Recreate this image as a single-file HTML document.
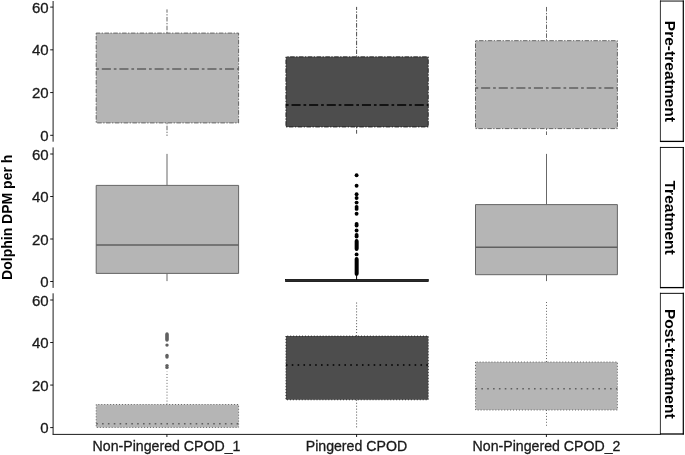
<!DOCTYPE html>
<html><head><meta charset="utf-8"><style>
html,body{margin:0;padding:0;background:#fff;}
body{width:685px;height:455px;overflow:hidden;}
svg{display:block;will-change:transform;}
.ytk{font-family:"Liberation Sans",sans-serif;font-size:15.0px;fill:#1a1a1a;stroke:#1a1a1a;stroke-width:0.3px;}
.tk{font-family:"Liberation Sans",sans-serif;font-size:14.15px;fill:#1a1a1a;stroke:#1a1a1a;stroke-width:0.3px;}
.stl{font-family:"Liberation Sans",sans-serif;font-size:15px;font-weight:bold;fill:#000;}
.ttl{font-family:"Liberation Sans",sans-serif;font-size:14px;font-weight:bold;fill:#000;}
</style></head><body>
<svg width="685" height="455" viewBox="0 0 685 455">
<path d="M167.0,33.1V9.4" fill="none" stroke="#606060" stroke-width="0.95" stroke-dasharray="1.35 1.45 4.55 1.45"/>
<path d="M167.0,122.9V135.9" fill="none" stroke="#606060" stroke-width="0.95" stroke-dasharray="1.35 1.45 4.55 1.45"/>
<path d="M96.2,33.1V122.9H238.6V33.1Z" fill="#b5b5b5" stroke="#606060" stroke-width="0.95" stroke-dasharray="1.35 1.45 4.55 1.45"/>
<path d="M96.2,69.1H238.6" fill="none" stroke="#606060" stroke-width="1.5" stroke-dasharray="2.70 2.90 9.10 2.90"/>
<path d="M356.6,56.8V6.9" fill="none" stroke="#000000" stroke-width="0.7" stroke-dasharray="1.35 1.45 4.55 1.45"/>
<path d="M356.6,127.0V133.7" fill="none" stroke="#000000" stroke-width="0.7" stroke-dasharray="1.35 1.45 4.55 1.45"/>
<path d="M285.9,56.8V127.0H428.3V56.8Z" fill="#4d4d4d" stroke="#000000" stroke-width="0.7" stroke-dasharray="1.35 1.45 4.55 1.45"/>
<path d="M285.9,105.0H428.3" fill="none" stroke="#000000" stroke-width="1.5" stroke-dasharray="2.70 2.90 9.10 2.90"/>
<path d="M546.5,40.7V6.9" fill="none" stroke="#606060" stroke-width="0.95" stroke-dasharray="1.35 1.45 4.55 1.45"/>
<path d="M546.5,128.6V135.0" fill="none" stroke="#606060" stroke-width="0.95" stroke-dasharray="1.35 1.45 4.55 1.45"/>
<path d="M475.5,40.7V128.6H617.4V40.7Z" fill="#b5b5b5" stroke="#606060" stroke-width="0.95" stroke-dasharray="1.35 1.45 4.55 1.45"/>
<path d="M475.5,88.1H617.4" fill="none" stroke="#606060" stroke-width="1.5" stroke-dasharray="2.70 2.90 9.10 2.90"/>
<path d="M167.0,185.4V153.9" fill="none" stroke="#606060" stroke-width="0.95"/>
<path d="M167.0,273.4V281.1" fill="none" stroke="#606060" stroke-width="0.95"/>
<path d="M96.2,185.4V273.4H238.6V185.4Z" fill="#b5b5b5" stroke="#606060" stroke-width="0.95"/>
<path d="M96.2,245.1H238.6" fill="none" stroke="#606060" stroke-width="1.5"/>
<path d="M546.5,204.6V153.9" fill="none" stroke="#606060" stroke-width="0.95"/>
<path d="M546.5,274.7V281.1" fill="none" stroke="#606060" stroke-width="0.95"/>
<path d="M475.5,204.6V274.7H617.4V204.6Z" fill="#b5b5b5" stroke="#606060" stroke-width="0.95"/>
<path d="M475.5,247.3H617.4" fill="none" stroke="#606060" stroke-width="1.5"/>
<path d="M167.0,404.5V371.6" fill="none" stroke="#606060" stroke-width="0.95" stroke-dasharray="1.00 1.95"/>
<path d="M167.0,427.4V427.6" fill="none" stroke="#606060" stroke-width="0.95" stroke-dasharray="1.00 1.95"/>
<path d="M96.2,404.5V427.4H238.6V404.5Z" fill="#b5b5b5" stroke="#606060" stroke-width="0.95" stroke-dasharray="1.00 1.95"/>
<path d="M96.2,423.8H238.6" fill="none" stroke="#606060" stroke-width="1.5" stroke-dasharray="1.60 4.25"/>
<path d="M356.6,336.0V302.0" fill="none" stroke="#000000" stroke-width="0.7" stroke-dasharray="1.00 1.95"/>
<path d="M356.6,399.8V427.6" fill="none" stroke="#000000" stroke-width="0.7" stroke-dasharray="1.00 1.95"/>
<path d="M285.9,336.0V399.8H428.3V336.0Z" fill="#4d4d4d" stroke="#000000" stroke-width="0.7" stroke-dasharray="1.00 1.95"/>
<path d="M285.9,365.0H428.3" fill="none" stroke="#000000" stroke-width="1.5" stroke-dasharray="1.60 4.25"/>
<path d="M546.5,362.0V302.0" fill="none" stroke="#606060" stroke-width="0.95" stroke-dasharray="1.00 1.95"/>
<path d="M546.5,410.0V426.1" fill="none" stroke="#606060" stroke-width="0.95" stroke-dasharray="1.00 1.95"/>
<path d="M475.5,362.0V410.0H617.4V362.0Z" fill="#b5b5b5" stroke="#606060" stroke-width="0.95" stroke-dasharray="1.00 1.95"/>
<path d="M475.5,388.7H617.4" fill="none" stroke="#606060" stroke-width="1.5" stroke-dasharray="1.60 4.25"/>
<circle cx="356.6" cy="175.2" r="1.95" fill="#000"/>
<circle cx="356.6" cy="185.7" r="1.95" fill="#000"/>
<circle cx="356.6" cy="194.3" r="1.95" fill="#000"/>
<circle cx="356.6" cy="198.0" r="1.95" fill="#000"/>
<circle cx="356.6" cy="202.6" r="1.95" fill="#000"/>
<circle cx="356.6" cy="206.9" r="1.95" fill="#000"/>
<circle cx="356.6" cy="208.9" r="1.95" fill="#000"/>
<circle cx="356.6" cy="213.8" r="1.95" fill="#000"/>
<circle cx="356.6" cy="224.0" r="1.95" fill="#000"/>
<circle cx="356.6" cy="225.5" r="1.95" fill="#000"/>
<circle cx="356.6" cy="230.5" r="1.95" fill="#000"/>
<circle cx="356.6" cy="235.0" r="1.95" fill="#000"/>
<circle cx="356.6" cy="236.5" r="1.95" fill="#000"/>
<circle cx="356.6" cy="241.0" r="1.95" fill="#000"/>
<circle cx="356.6" cy="242.0" r="1.95" fill="#000"/>
<circle cx="356.6" cy="243.0" r="1.95" fill="#000"/>
<circle cx="356.6" cy="244.0" r="1.95" fill="#000"/>
<circle cx="356.6" cy="245.0" r="1.95" fill="#000"/>
<circle cx="356.6" cy="246.0" r="1.95" fill="#000"/>
<circle cx="356.6" cy="247.0" r="1.95" fill="#000"/>
<circle cx="356.6" cy="248.0" r="1.95" fill="#000"/>
<circle cx="356.6" cy="249.0" r="1.95" fill="#000"/>
<circle cx="356.6" cy="254.4" r="1.95" fill="#000"/>
<circle cx="356.6" cy="258.9" r="1.95" fill="#000"/>
<circle cx="356.6" cy="259.9" r="1.95" fill="#000"/>
<circle cx="356.6" cy="260.9" r="1.95" fill="#000"/>
<circle cx="356.6" cy="261.9" r="1.95" fill="#000"/>
<circle cx="356.6" cy="262.9" r="1.95" fill="#000"/>
<circle cx="356.6" cy="263.9" r="1.95" fill="#000"/>
<circle cx="356.6" cy="264.9" r="1.95" fill="#000"/>
<circle cx="356.6" cy="265.9" r="1.95" fill="#000"/>
<circle cx="356.6" cy="266.9" r="1.95" fill="#000"/>
<circle cx="356.6" cy="267.9" r="1.95" fill="#000"/>
<circle cx="356.6" cy="268.9" r="1.95" fill="#000"/>
<circle cx="356.6" cy="269.9" r="1.95" fill="#000"/>
<circle cx="356.6" cy="270.9" r="1.95" fill="#000"/>
<circle cx="356.6" cy="271.9" r="1.95" fill="#000"/>
<circle cx="356.6" cy="272.9" r="1.95" fill="#000"/>
<circle cx="356.6" cy="273.9" r="1.95" fill="#000"/>
<line x1="356.6" y1="275" x2="356.6" y2="280" stroke="#000" stroke-width="1"/>
<rect x="285.6" y="279.35" width="142.7" height="2.3" fill="#2a2a2a" stroke="#000" stroke-width="0.7"/>
<circle cx="167.0" cy="334.0" r="1.7" fill="#606060"/>
<circle cx="167.0" cy="335.0" r="1.7" fill="#606060"/>
<circle cx="167.0" cy="336.0" r="1.7" fill="#606060"/>
<circle cx="167.0" cy="337.0" r="1.7" fill="#606060"/>
<circle cx="167.0" cy="338.0" r="1.7" fill="#606060"/>
<circle cx="167.0" cy="339.0" r="1.7" fill="#606060"/>
<circle cx="167.0" cy="340.0" r="1.7" fill="#606060"/>
<circle cx="167.0" cy="345.1" r="1.7" fill="#606060"/>
<circle cx="167.0" cy="355.5" r="1.7" fill="#606060"/>
<circle cx="167.0" cy="357.0" r="1.7" fill="#606060"/>
<circle cx="167.0" cy="365.6" r="1.7" fill="#606060"/>
<circle cx="167.0" cy="367.4" r="1.7" fill="#606060"/>
<line x1="53.1" y1="1.0" x2="53.1" y2="141.7" stroke="#000000" stroke-width="0.9"/>
<line x1="50.2" y1="135.30" x2="53.1" y2="135.30" stroke="#000000" stroke-width="0.9"/>
<text x="48.7" y="140.85" text-anchor="end" class="ytk">0</text>
<line x1="50.2" y1="92.57" x2="53.1" y2="92.57" stroke="#000000" stroke-width="0.9"/>
<text x="48.7" y="98.12" text-anchor="end" class="ytk">20</text>
<line x1="50.2" y1="49.83" x2="53.1" y2="49.83" stroke="#000000" stroke-width="0.9"/>
<text x="48.7" y="55.38" text-anchor="end" class="ytk">40</text>
<line x1="50.2" y1="7.10" x2="53.1" y2="7.10" stroke="#000000" stroke-width="0.9"/>
<text x="48.7" y="12.65" text-anchor="end" class="ytk">60</text>
<line x1="53.1" y1="147.4" x2="53.1" y2="287.9" stroke="#000000" stroke-width="0.9"/>
<line x1="50.2" y1="281.50" x2="53.1" y2="281.50" stroke="#000000" stroke-width="0.9"/>
<text x="48.7" y="287.05" text-anchor="end" class="ytk">0</text>
<line x1="50.2" y1="239.00" x2="53.1" y2="239.00" stroke="#000000" stroke-width="0.9"/>
<text x="48.7" y="244.55" text-anchor="end" class="ytk">20</text>
<line x1="50.2" y1="196.50" x2="53.1" y2="196.50" stroke="#000000" stroke-width="0.9"/>
<text x="48.7" y="202.05" text-anchor="end" class="ytk">40</text>
<line x1="50.2" y1="154.00" x2="53.1" y2="154.00" stroke="#000000" stroke-width="0.9"/>
<text x="48.7" y="159.55" text-anchor="end" class="ytk">60</text>
<line x1="53.1" y1="293.3" x2="53.1" y2="434.3" stroke="#000000" stroke-width="0.9"/>
<line x1="50.2" y1="427.60" x2="53.1" y2="427.60" stroke="#000000" stroke-width="0.9"/>
<text x="48.7" y="433.15" text-anchor="end" class="ytk">0</text>
<line x1="50.2" y1="385.07" x2="53.1" y2="385.07" stroke="#000000" stroke-width="0.9"/>
<text x="48.7" y="390.62" text-anchor="end" class="ytk">20</text>
<line x1="50.2" y1="342.53" x2="53.1" y2="342.53" stroke="#000000" stroke-width="0.9"/>
<text x="48.7" y="348.08" text-anchor="end" class="ytk">40</text>
<line x1="50.2" y1="300.00" x2="53.1" y2="300.00" stroke="#000000" stroke-width="0.9"/>
<text x="48.7" y="305.55" text-anchor="end" class="ytk">60</text>
<line x1="52.550000000000004" y1="434.4" x2="660.4" y2="434.4" stroke="#000000" stroke-width="0.9"/>
<line x1="166.9" y1="434.4" x2="166.9" y2="437.0" stroke="#000000" stroke-width="0.9"/>
<text x="166.5" y="450.7" text-anchor="middle" class="tk">Non-Pingered CPOD_1</text>
<line x1="356.6" y1="434.4" x2="356.6" y2="437.0" stroke="#000000" stroke-width="0.9"/>
<text x="356.4" y="450.7" text-anchor="middle" class="tk">Pingered CPOD</text>
<line x1="546.4" y1="434.4" x2="546.4" y2="437.0" stroke="#000000" stroke-width="0.9"/>
<text x="546.5" y="450.7" text-anchor="middle" class="tk">Non-Pingered CPOD_2</text>
<text transform="translate(12.4,217.3) rotate(-90)" text-anchor="middle" class="ttl">Dolphin DPM per h</text>
<rect x="660.4" y="1.0" width="22.9" height="140.7" fill="#fff"/>
<path d="M660.4,0.50V142.00" stroke="#000" stroke-width="0.8" fill="none"/>
<path d="M683.3,0.50V142.00" stroke="#000" stroke-width="1.2" fill="none"/>
<path d="M660.00,1.05H683.90" stroke="#000" stroke-width="0.95" fill="none"/>
<path d="M660.00,141.40H683.90" stroke="#000" stroke-width="1.3" fill="none"/>
<text transform="translate(665.2,71.3) rotate(90) scale(1.037,1)" text-anchor="middle" class="stl">Pre-treatment</text>
<rect x="660.4" y="147.4" width="22.9" height="140.5" fill="#fff"/>
<path d="M660.4,146.90V288.20" stroke="#000" stroke-width="0.8" fill="none"/>
<path d="M683.3,146.90V288.20" stroke="#000" stroke-width="1.2" fill="none"/>
<path d="M660.00,147.45H683.90" stroke="#000" stroke-width="0.95" fill="none"/>
<path d="M660.00,287.60H683.90" stroke="#000" stroke-width="1.3" fill="none"/>
<text transform="translate(665.2,217.6) rotate(90) scale(1.037,1)" text-anchor="middle" class="stl">Treatment</text>
<rect x="660.4" y="293.3" width="22.9" height="141.0" fill="#fff"/>
<path d="M660.4,292.80V434.60" stroke="#000" stroke-width="0.8" fill="none"/>
<path d="M683.3,292.80V434.60" stroke="#000" stroke-width="1.2" fill="none"/>
<path d="M660.00,293.35H683.90" stroke="#000" stroke-width="0.95" fill="none"/>
<path d="M660.00,434.00H683.90" stroke="#000" stroke-width="1.3" fill="none"/>
<text transform="translate(665.2,363.8) rotate(90) scale(1.037,1)" text-anchor="middle" class="stl">Post-treatment</text>
</svg>
</body></html>
